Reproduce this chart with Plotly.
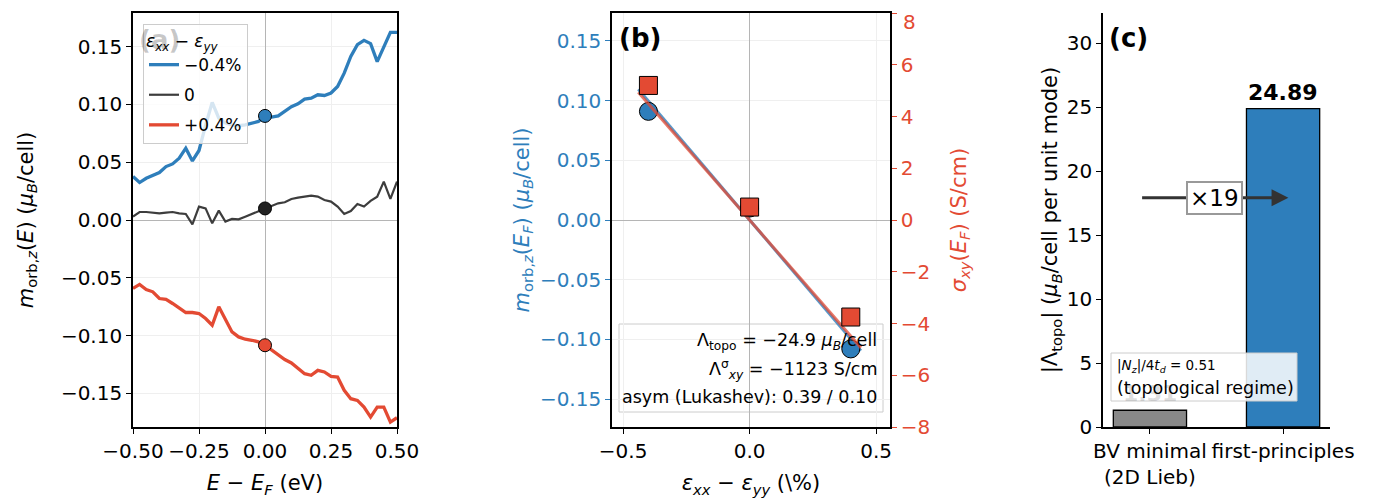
import plotly.graph_objects as go

# ---------------- data ----------------
E_grid = [-0.5, -0.475, -0.45, -0.425, -0.4, -0.375, -0.35, -0.325, -0.3, -0.275,
          -0.25, -0.225, -0.2, -0.175, -0.15, -0.125, -0.1, -0.075, -0.05, -0.025,
          0.0, 0.025, 0.05, 0.075, 0.1, 0.125, 0.15, 0.175, 0.2, 0.225,
          0.25, 0.275, 0.3, 0.325, 0.35, 0.375, 0.4, 0.425, 0.45, 0.475, 0.5]

m_neg = [0.0376, 0.0324, 0.0361, 0.0384, 0.0410, 0.0462, 0.0485, 0.0534, 0.0621, 0.0511,
         0.0601, 0.0820, 0.1017, 0.0880, 0.0838, 0.0823, 0.0815, 0.0823, 0.0838, 0.0852,
         0.0900, 0.0890, 0.0900, 0.0940, 0.0980, 0.1005, 0.1046, 0.1054, 0.1083, 0.1077,
         0.1098, 0.1155, 0.1270, 0.1415, 0.1517, 0.1554, 0.1525, 0.1370, 0.1500, 0.1623, 0.1623]

m_zero = [0.0030, 0.0069, 0.0069, 0.0064, 0.0058, 0.0064, 0.0069, 0.0058, 0.0052, -0.0038,
          0.0116, 0.0101, -0.0029, 0.0081, -0.0014, 0.0009, 0.0006, 0.0029, 0.0052, 0.0072,
          0.0100, 0.0121, 0.0144, 0.0153, 0.0182, 0.0194, 0.0202, 0.0211, 0.0202, 0.0173,
          0.0159, 0.0116, 0.0052, 0.0078, 0.0139, 0.0116, 0.0165, 0.0202, 0.0332, 0.0182, 0.0332]

m_pos = [-0.0592, -0.0557, -0.0601, -0.0621, -0.0679, -0.0687, -0.0722, -0.0765, -0.0800, -0.0800,
         -0.0809, -0.0852, -0.0910, -0.0751, -0.0867, -0.0968, -0.1011, -0.1031, -0.1040, -0.1054,
         -0.1083, -0.1127, -0.1170, -0.1207, -0.1236, -0.1285, -0.1329, -0.1343, -0.1300, -0.1314,
         -0.1352, -0.1358, -0.1473, -0.1545, -0.1560, -0.1618, -0.1704, -0.1618, -0.1618, -0.1748, -0.1709]

series_names = ["\u22120.4%", "0", "+0.4%"]

strain_pct = [-0.4, 0.0, 0.4]
m_EF = [0.091, 0.010, -0.108]
sigma_EF = [5.2, 0.5, -3.75]
fit_range = [-0.44, 0.44]
lambda_topo = -24.9      # muB/cell per unit strain
lambda_sigma = -1123.0   # S/cm per unit strain
asym_text = "asym (Lukashev): 0.39 / 0.10"
sigma_ticks = [-8, -6, -4, -2, 0, 2, 4, 6, 8]

bar_labels = ["BV minimal<br>(2D Lieb)", "first-principles"]
bar_values = [1.31, 24.89]
ratio = 19
Nz_ratio = 0.51

# colors
BLUE = "#2e7ebb"
RED = "#e34a33"
DARK = "#3d3d3d"
FONT = "DejaVu Sans"

fig = go.Figure()

# ---------------- panel (a) ----------------
for k, (ys, nm, col, w) in enumerate([(m_neg, series_names[0], BLUE, 3.3),
                                      (m_zero, series_names[1], DARK, 2.2),
                                      (m_pos, series_names[2], RED, 3.3)]):
    fig.add_trace(go.Scatter(x=E_grid, y=ys, mode="lines", name=nm, legendgroup="g%d" % k,
                             line=dict(color=col, width=w), xaxis="x", yaxis="y"))
i0 = E_grid.index(0.0)
for ys, col in [(m_neg, BLUE), (m_zero, "#222222"), (m_pos, RED)]:
    fig.add_trace(go.Scatter(x=[E_grid[i0]], y=[ys[i0]], mode="markers", showlegend=False,
                             marker=dict(color=col, size=13, line=dict(color="black", width=1)),
                             xaxis="x", yaxis="y"))

# ---------------- panel (b) ----------------
fit_m = [lambda_topo * s / 100.0 for s in fit_range]
fit_s = [lambda_sigma * s / 100.0 for s in fit_range]
fig.add_trace(go.Scatter(x=fit_range, y=fit_m, mode="lines", showlegend=False,
                         line=dict(color="rgba(46,126,187,0.8)", width=3), xaxis="x2", yaxis="y2"))
fig.add_trace(go.Scatter(x=strain_pct, y=m_EF, mode="markers", showlegend=False,
                         marker=dict(color=BLUE, size=18, line=dict(color="black", width=1)),
                         xaxis="x2", yaxis="y2"))
fig.add_trace(go.Scatter(x=fit_range, y=fit_s, mode="lines", showlegend=False,
                         line=dict(color="rgba(227,74,51,0.75)", width=3), xaxis="x2", yaxis="y3"))
fig.add_trace(go.Scatter(x=strain_pct, y=sigma_EF, mode="markers", showlegend=False,
                         marker=dict(color=RED, size=18, symbol="square", line=dict(color="black", width=1)),
                         xaxis="x2", yaxis="y3"))

# ---------------- panel (c) ----------------
fig.add_trace(go.Bar(x=[0, 1], y=bar_values, width=0.55, showlegend=False,
                     marker=dict(color=["#888888", BLUE], line=dict(color="black", width=1.3)),
                     xaxis="x4", yaxis="y4"))

# ---------------- layout ----------------
W, H = 1375, 500
OFF = 8  # page body margin offset
def pxx(v):
    return (v - OFF) / W
def px_x(a, b):
    return [pxx(a), pxx(b)]
def py(v):
    return (H - (v - OFF)) / H
ydom = [py(427), py(13)]

TS = 20   # tick font size
LS = 21   # label font size
tickfont = dict(family=FONT, size=TS, color="black")
labfont = dict(family=FONT, size=LS, color="black")
box = dict(showline=True, linecolor="black", linewidth=1.6, mirror=True, ticks="outside",
           ticklen=5, tickwidth=1.2, tickcolor="black", automargin=False, ticklabeloverflow="allow")

# right-axis tick text: the top label is placed as an annotation so it is not clipped
sigma_ticktext = [("\u2212%d" % -t if t < 0 else "%d" % t) for t in sigma_ticks[:-1]] + [""]

fig.update_layout(
    width=W, height=H, margin=dict(l=0, r=0, t=0, b=0),
    paper_bgcolor="white", plot_bgcolor="white",
    font=dict(family=FONT, size=14, color="black"),
    xaxis=dict(domain=px_x(133, 397), range=[-0.5, 0.5], tickvals=[-0.5, -0.25, 0, 0.25, 0.5],
               tickformat=".2f", tickfont=tickfont, showgrid=True, gridcolor="#efefef",
               zeroline=True, zerolinecolor="#b5b5b5", zerolinewidth=1.2, tickangle=0,
               title=dict(text="<i>E</i> \u2212 <i>E</i><sub><i>F</i></sub> (eV)", font=labfont, standoff=14),
               anchor="y", **box),
    yaxis=dict(domain=ydom, range=[-0.179, 0.179], tickvals=[-0.15, -0.1, -0.05, 0, 0.05, 0.1, 0.15],
               tickformat=".2f", tickfont=tickfont, showgrid=True, gridcolor="#efefef",
               zeroline=True, zerolinecolor="#b5b5b5", zerolinewidth=1.2,
               title=dict(text="<i>m</i><sub>orb,<i>z</i></sub>(<i>E</i>) (<i>\u03bc</i><sub><i>B</i></sub>/cell)",
                          font=labfont, standoff=22),
               anchor="x", **box),
    xaxis2=dict(domain=px_x(612, 890), range=[-0.544, 0.555], tickvals=[-0.5, 0, 0.5],
                tickformat=".1f", tickfont=tickfont, showgrid=True, gridcolor="#efefef",
                zeroline=True, zerolinecolor="#b5b5b5", zerolinewidth=1.2, tickangle=0,
                title=dict(text="<i>\u03b5</i><sub><i>xx</i></sub> \u2212 <i>\u03b5</i><sub><i>yy</i></sub> (\\%)",
                           font=labfont, standoff=14),
                anchor="y2", **box),
    yaxis2=dict(domain=ydom, range=[-0.1734, 0.1734], tickvals=[-0.15, -0.1, -0.05, 0, 0.05, 0.1, 0.15],
                tickformat=".2f", tickfont=dict(family=FONT, size=TS, color=BLUE),
                showgrid=True, gridcolor="#efefef",
                zeroline=True, zerolinecolor="#b5b5b5", zerolinewidth=1.2,
                showline=True, linecolor="black", linewidth=1.6, mirror=True, ticks="outside",
                ticklen=5, tickwidth=1.2, tickcolor=BLUE, automargin=False, ticklabeloverflow="allow",
                title=dict(text="<i>m</i><sub>orb,<i>z</i></sub>(<i>E</i><sub><i>F</i></sub>) (<i>\u03bc</i><sub><i>B</i></sub>/cell)",
                           font=dict(family=FONT, size=LS, color=BLUE), standoff=5),
                anchor="x2"),
    yaxis3=dict(range=[-8, 8], tickvals=sigma_ticks, ticktext=sigma_ticktext, overlaying="y2", side="right",
                tickfont=dict(family=FONT, size=TS, color=RED), showgrid=False, zeroline=False,
                showline=True, linecolor="black", linewidth=1.6, ticks="outside", ticklen=5,
                tickwidth=1.2, tickcolor=RED, automargin=False, ticklabeloverflow="allow",
                title=dict(text="<i>\u03c3</i><sub><i>xy</i></sub>(<i>E</i><sub><i>F</i></sub>) (S/cm)",
                           font=dict(family=FONT, size=LS, color=RED), standoff=22),
                anchor="x2"),
    xaxis4=dict(domain=px_x(1103, 1330), range=[-0.3525, 1.3525], tickvals=[0, 1], ticktext=bar_labels,
                tickfont=dict(family=FONT, size=TS, color="black"), showgrid=False, zeroline=False,
                showline=True, linecolor="black", linewidth=1.6, ticks="outside", ticklen=5,
                tickwidth=1.2, tickcolor="black", anchor="y4", tickangle=0, automargin=False,
                ticklabeloverflow="allow"),
    yaxis4=dict(domain=ydom, range=[0, 32.36], tickvals=[0, 5, 10, 15, 20, 25, 30],
                tickfont=dict(family=FONT, size=TS, color="black"), showgrid=False, zeroline=False,
                showline=True, linecolor="black", linewidth=1.6, ticks="outside", ticklen=5,
                tickwidth=1.2, tickcolor="black", automargin=False, ticklabeloverflow="allow",
                title=dict(text="|\u039b<sub>topo</sub>| (<i>\u03bc</i><sub><i>B</i></sub>/cell per unit mode)",
                           font=dict(family=FONT, size=LS, color="black"), standoff=3),
                anchor="x4"),
    legend=dict(x=pxx(143), y=py(24), xanchor="left", yanchor="top", traceorder="grouped",
                bgcolor="rgba(255,255,255,0.8)", bordercolor="#cccccc", borderwidth=1,
                font=dict(family=FONT, size=17, color="black"),
                title=dict(text="<i>\u03b5</i><sub><i>xx</i></sub> \u2212 <i>\u03b5</i><sub><i>yy</i></sub>",
                           font=dict(family=FONT, size=17, color="black")),
                tracegroupgap=5),
)

shapes = []
# panel (b) text box background (between grid and traces)
shapes.append(dict(type="rect", xref="paper", yref="paper", x0=pxx(619), x1=pxx(883), y0=py(412), y1=py(324),
                   fillcolor="rgba(255,255,255,0.8)", line=dict(color="#cccccc", width=1), layer="between"))
# panel (c) text box
shapes.append(dict(type="rect", xref="paper", yref="paper", x0=pxx(1111), x1=pxx(1297), y0=py(401), y1=py(353),
                   fillcolor="rgba(255,255,255,0.85)", line=dict(color="#cccccc", width=1), layer="above"))
fig.update_layout(shapes=shapes)

ann = []
# top right-axis tick label
ann.append(dict(text="%d" % sigma_ticks[-1], x=pxx(901), y=1.0, xref="paper", yref="paper",
                xanchor="left", yanchor="top", showarrow=False,
                font=dict(family=FONT, size=TS, color=RED)))
# panel labels
ann.append(dict(text="<b>(a)</b>", x=pxx(137), y=py(40), xref="paper", yref="paper",
                xanchor="left", yanchor="middle", showarrow=False,
                font=dict(family=FONT, size=26, color="rgba(0,0,0,0.22)")))
ann.append(dict(text="<b>(b)</b>", x=pxx(617), y=py(38), xref="paper", yref="paper",
                xanchor="left", yanchor="middle", showarrow=False,
                font=dict(family=FONT, size=26, color="black")))
ann.append(dict(text="<b>(c)</b>", x=pxx(1107), y=py(38), xref="paper", yref="paper",
                xanchor="left", yanchor="middle", showarrow=False,
                font=dict(family=FONT, size=26, color="black")))
# panel (b) text lines
b_lines = ["\u039b<sub>topo</sub> = \u2212%.1f <i>\u03bc</i><sub><i>B</i></sub>/cell" % abs(lambda_topo),
           "\u039b<sup>\u03c3</sup><sub><i>xy</i></sub> = \u2212%d S/cm" % abs(lambda_sigma),
           asym_text]
for txt, yc in zip(b_lines, [342, 369, 397]):
    ann.append(dict(text=txt, x=pxx(879), y=py(yc), xref="paper", yref="paper", xanchor="right",
                    yanchor="middle", showarrow=False, font=dict(family=FONT, size=17.5, color="black")))
# panel (c) value labels
ann.append(dict(text="<b>%.2f</b>" % bar_values[1], x=1, y=bar_values[1], xref="x4", yref="y4", yshift=2,
                xanchor="center", yanchor="bottom", showarrow=False,
                font=dict(family=FONT, size=22, color="black")))
# arrow
arrow_y = bar_values[1] * 0.72
ann.append(dict(text="", x=1.04, y=arrow_y, ax=-0.07, ay=arrow_y, xref="x4", yref="y4",
                axref="x4", ayref="y4", showarrow=True, arrowhead=2, arrowsize=1.2,
                arrowwidth=2.8, arrowcolor="#333333"))
ann.append(dict(text="\u00d7%d" % ratio, x=0.485, y=arrow_y, xref="x4", yref="y4",
                showarrow=False, bgcolor="white", bordercolor="#999999", borderwidth=2, borderpad=2,
                font=dict(family=FONT, size=23, color="black")))
# faint low-bar value, behind the regime box
ann.append(dict(text="<b>%.2f</b>" % bar_values[0], x=0, y=bar_values[0], xref="x4", yref="y4", yshift=2,
                xanchor="center", yanchor="bottom", showarrow=False,
                font=dict(family=FONT, size=22, color="rgba(0,0,0,0.15)")))
ann.append(dict(text="|<i>N</i><sub><i>z</i></sub>|/4<i>t</i><sub><i>d</i></sub> = %.2f" % Nz_ratio,
                x=pxx(1115), y=py(366), xref="paper", yref="paper", xanchor="left", yanchor="middle",
                showarrow=False, font=dict(family=FONT, size=13.5, color="black")))
ann.append(dict(text="(topological regime)",
                x=pxx(1115), y=py(388), xref="paper", yref="paper", xanchor="left", yanchor="middle",
                showarrow=False, font=dict(family=FONT, size=17.5, color="black")))
fig.update_layout(annotations=ann)

fig.write_html("out.html")
